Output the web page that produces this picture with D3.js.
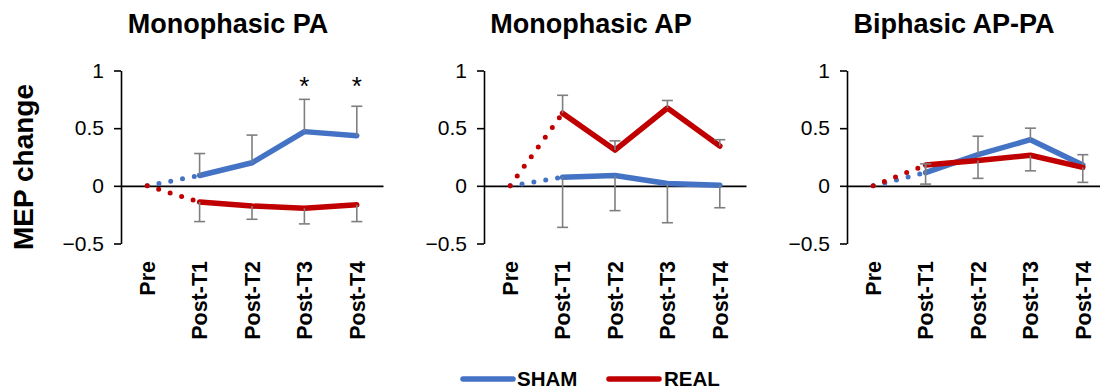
<!DOCTYPE html>
<html>
<head>
<meta charset="utf-8">
<script src="https://cdn.jsdelivr.net/npm/d3@7"></script>
<style>
  html, body { margin: 0; padding: 0; background: #ffffff; }
  svg { display: block; font-family: "Liberation Sans", Arial, Helvetica, sans-serif; }
</style>
</head>
<body>
<svg id="chart" width="1100" height="390"></svg>
<script>
// ---------- data ----------
const categories = ["Pre", "Post-T1", "Post-T2", "Post-T3", "Post-T4"];
const panelTitles = ["Monophasic PA", "Monophasic AP", "Biphasic AP-PA"];
const yTicks = [-0.5, 0, 0.5, 1];
const seriesNames = ["SHAM", "REAL"];

const shamValues = [
  [0, 0.09, 0.20, 0.47, 0.435],
  [0, 0.075, 0.09, 0.02, 0.005],
  [0, 0.115, 0.27, 0.40, 0.18]
];
const realValues = [
  [0, -0.14, -0.175, -0.195, -0.165],
  [0, 0.63, 0.31, 0.675, 0.345],
  [0, 0.18, 0.22, 0.265, 0.16]
];
// error bar end values (one-sided bars)
const shamErrEnd = [
  [null, 0.28, 0.44, 0.75, 0.69],
  [null, -0.36, -0.215, -0.32, -0.19],
  [null, 0.19, 0.43, 0.50, 0.27]
];
const realErrEnd = [
  [null, -0.31, -0.29, -0.33, -0.31],
  [null, 0.785, 0.39, 0.74, 0.40],
  [null, 0.015, 0.065, 0.13, 0.03]
];
const sigMarks = [
  [null, null, null, "*", "*"],
  [null, null, null, null, null],
  [null, null, null, null, null]
];

// ---------- styling / layout ----------
const colors = { SHAM: "#4472C4", REAL: "#C00000" };
const errColor = "#7F7F7F";
const panelLeft = [121, 484, 847];
const plotW = 262;
const yTop = 70.5, yBottom = 243.5;

const svg = d3.select("#chart");

const y = d3.scaleLinear().domain([-0.5, 1]).range([yBottom, yTop]);

// y axis title
svg.append("text")
  .attr("transform", `translate(33,167) rotate(-90)`)
  .attr("text-anchor", "middle")
  .attr("font-size", 28)
  .attr("font-weight", "bold")
  .attr("fill", "#000")
  .text("MEP change");

panelTitles.forEach((title, p) => {
  const left = panelLeft[p];
  const x = d3.scaleBand().domain(categories).range([left, left + plotW]).padding(0);
  const cx = d => x(d) + x.bandwidth() / 2;
  const g = svg.append("g");

  // title
  g.append("text")
    .attr("x", left + 107)
    .attr("y", 33)
    .attr("text-anchor", "middle")
    .attr("font-size", 27)
    .attr("font-weight", "bold")
    .attr("fill", "#000")
    .text(title);

  // y axis
  const yAxis = d3.axisLeft(y).tickValues(yTicks).tickSize(7).tickSizeOuter(0).tickPadding(10)
    .tickFormat(d => d3.format("")(d));
  const ya = g.append("g").attr("transform", `translate(${left},0)`).call(yAxis);
  ya.select(".domain").attr("stroke", "#000").attr("stroke-width", 1.6);
  ya.selectAll(".tick line").attr("stroke", "#000").attr("stroke-width", 1.6);
  ya.selectAll(".tick text").attr("font-size", 21).attr("fill", "#000")
    .attr("font-family", "'Liberation Sans', Arial, sans-serif");

  // zero line (x axis)
  const xAxis = d3.axisBottom(x).tickSize(0).tickFormat("");
  const xa = g.append("g").attr("transform", `translate(0,${y(0)})`).call(xAxis);
  xa.select(".domain").attr("stroke", "#000").attr("stroke-width", 1.6);

  // category labels (rotated)
  g.selectAll(".cat").data(categories).enter().append("text")
    .attr("class", "cat")
    .attr("transform", d => `translate(${cx(d)},261) rotate(-90)`)
    .attr("text-anchor", "end")
    .attr("dy", "0.36em")
    .attr("font-size", 21.5)
    .attr("font-weight", "bold")
    .attr("fill", "#000")
    .text(d => d);

  const series = [
    { name: "SHAM", vals: shamValues[p], err: shamErrEnd[p] },
    { name: "REAL", vals: realValues[p], err: realErrEnd[p] }
  ];

  const line = d3.line().x((d, i) => cx(categories[d.i])).y(d => y(d.v));

  series.forEach(s => {
    const pts = s.vals.map((v, i) => ({ v, i }));
    // dotted segment Pre -> Post-T1
    g.append("path")
      .attr("d", line(pts.slice(0, 2)))
      .attr("fill", "none")
      .attr("stroke", colors[s.name])
      .attr("stroke-width", 5)
      .attr("stroke-linecap", "round")
      .attr("stroke-dasharray", "0 12");
    // solid segment Post-T1 -> Post-T4
    g.append("path")
      .attr("d", line(pts.slice(1)))
      .attr("fill", "none")
      .attr("stroke", colors[s.name])
      .attr("stroke-width", 5.5)
      .attr("stroke-linecap", "round")
      .attr("stroke-linejoin", "round");
  });

  // error bars
  series.forEach(s => {
    s.vals.forEach((v, i) => {
      const e = s.err[i];
      if (e === null) return;
      const xc = cx(categories[i]);
      g.append("line")
        .attr("x1", xc).attr("x2", xc)
        .attr("y1", y(v)).attr("y2", y(e))
        .attr("stroke", errColor).attr("stroke-width", 1.6);
      g.append("line")
        .attr("x1", xc - 5.5).attr("x2", xc + 5.5)
        .attr("y1", y(e)).attr("y2", y(e))
        .attr("stroke", errColor).attr("stroke-width", 1.6);
    });
  });

  // significance markers
  sigMarks[p].forEach((m, i) => {
    if (!m) return;
    g.append("text")
      .attr("x", cx(categories[i]))
      .attr("y", 95)
      .attr("text-anchor", "middle")
      .attr("font-size", 26)
      .attr("fill", "#000")
      .text(m);
  });
});

// legend
const legendItems = [
  { name: "SHAM", x1: 463, x2: 513, tx: 517 },
  { name: "REAL", x1: 609, x2: 659, tx: 664 }
];
const lg = svg.append("g");
lg.selectAll("line").data(legendItems).enter().append("line")
  .attr("x1", d => d.x1).attr("x2", d => d.x2)
  .attr("y1", 379).attr("y2", 379)
  .attr("stroke", d => colors[d.name])
  .attr("stroke-width", 5.5)
  .attr("stroke-linecap", "round");
lg.selectAll("text").data(legendItems).enter().append("text")
  .attr("x", d => d.tx).attr("y", 385.5)
  .attr("font-size", 20.5)
  .attr("font-weight", "bold")
  .attr("fill", "#000")
  .text(d => d.name);
</script>
</body>
</html>
